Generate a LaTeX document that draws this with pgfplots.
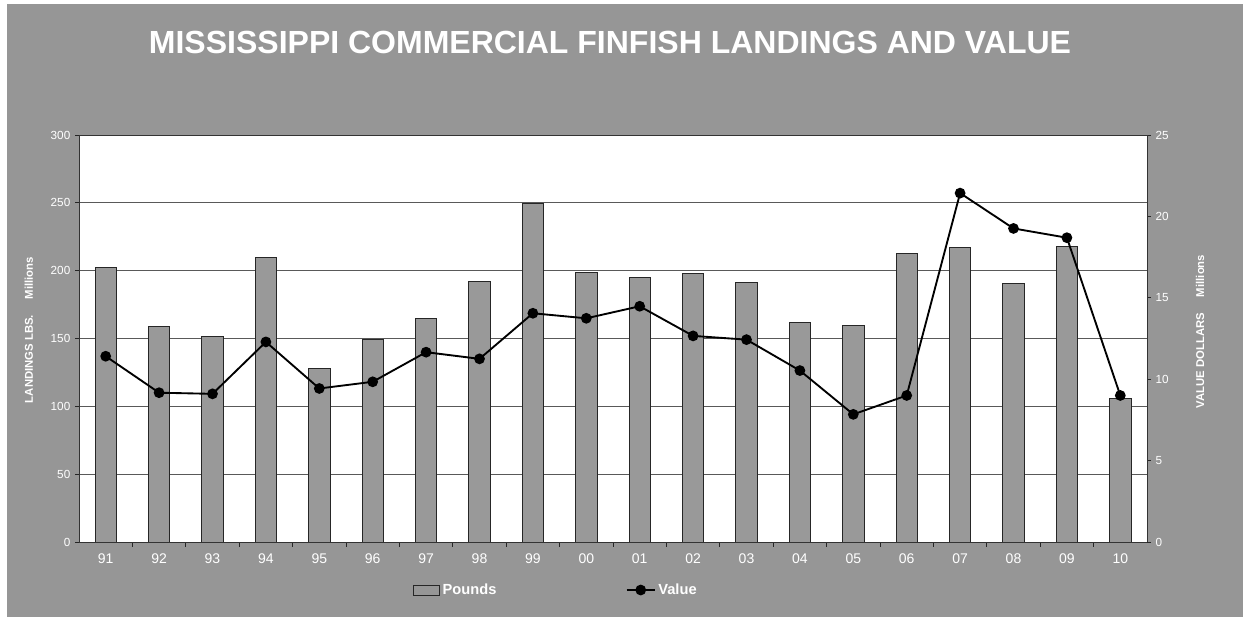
\documentclass[border=0pt]{standalone}
\usepackage{fontspec}
\setmainfont{Liberation Sans}
\usepackage{pgfplots}
\pgfplotsset{compat=1.18}

\definecolor{bggray}{RGB}{150,150,150}
\definecolor{bargray}{RGB}{153,153,153}

% shared geometry of both axes (1 px of the reference = 0.75pt)
\pgfplotsset{
  chartbase/.style={
    scale only axis, width=801pt, height=305.25pt,
    at={(59.25pt,56.25pt)}, anchor=south west,
    xmin=-0.5, xmax=19.5,
    /pgf/number format/assume math mode=true,
    tick align=outside,
    major tick length=3pt,
    tick style={black!85, line width=0.6pt},
    axis line style={-, black!80},
    yticklabel style={font=\fontsize{8.8}{10}\selectfont, text=white},
    ylabel style={font=\bfseries\fontsize{8.5}{10}\selectfont, text=white, anchor=center},
  },
  boxlegend/.style={legend image code/.code={
    \draw[fill=bggray, draw=black!85, line width=0.6pt] (0pt,-3.75pt) rectangle (19.5pt,3.75pt);}},
  linelegend/.style={legend image code/.code={
    \draw[mark repeat=2, mark phase=2, ##1] plot coordinates {(0pt,0pt) (10.5pt,0pt) (21pt,0pt)};}},
}

\begin{document}
\begin{tikzpicture}
\fill[white] (0,0) rectangle (932.25pt,462.75pt);
\fill[bggray] (5.25pt,0) rectangle (932.25pt,459.75pt);
\node[anchor=base, text=white, font=\bfseries\fontsize{24}{28}\selectfont]
  at (457.5pt,422.25pt) {MISSISSIPPI COMMERCIAL FINFISH LANDINGS AND VALUE};

% landings (left axis)
\begin{axis}[chartbase,
  ymin=0, ymax=300, ytick={0,50,...,300},
  axis background/.style={fill=white},
  ymajorgrids, major grid style={black!65, line width=0.6pt},
  xtick={0,...,19},
  xticklabels={91,92,93,94,95,96,97,98,99,00,01,02,03,04,05,06,07,08,09,10},
  xtick pos=left, ytick pos=left,
  major x tick style={draw=none},
  minor xtick={0.5,1.5,...,18.5},
  minor tick length=3.75pt,
  minor x tick style={black!85, line width=0.6pt},
  xticklabel style={font=\fontsize{10.5}{12}\selectfont, text=white, yshift=-2pt},
  ylabel={LANDINGS LBS.\hspace{1.4em}Millions},
  ylabel style={at={(axis description cs:-0.047,0.521)}},
]
\addplot[ybar, bar width=0.4, fill=bargray, draw=black!85, line width=0.6pt] coordinates {
  (0,202.6) (1,158.9) (2,151.8) (3,209.9) (4,128.0)
  (5,149.1) (6,164.6) (7,191.8) (8,249.5) (9,198.9)
  (10,195.2) (11,198.2) (12,191.1) (13,162.1) (14,159.4)
  (15,212.7) (16,216.9) (17,190.6) (18,218.0) (19,106.1)
};
\end{axis}

% value (right axis)
\begin{axis}[chartbase,
  ymin=0, ymax=25, ytick={0,5,...,25},
  axis x line=none, axis y line*=right,
  ylabel={VALUE DOLLARS\hspace{1.4em}Millions},
  ylabel style={at={(axis description cs:1.0496,0.517)}},
  legend columns=2,
  legend style={at={(axis description cs:0.3127,-0.118)}, anchor=west,
    draw=none, fill=none, inner sep=0pt,
    font=\bfseries\fontsize{11}{13}\selectfont, text=white,
    /tikz/every even column/.append style={column sep=95pt}},
]
\addlegendimage{boxlegend}
\addlegendentry{Pounds}
\addplot[black, line width=1.4pt, mark=*, mark size=3.3pt, linelegend]
  coordinates {
  (0,11.41) (1,9.17) (2,9.10) (3,12.29) (4,9.43)
  (5,9.84) (6,11.66) (7,11.25) (8,14.05) (9,13.74)
  (10,14.48) (11,12.66) (12,12.43) (13,10.53) (14,7.84)
  (15,9.00) (16,21.43) (17,19.26) (18,18.69) (19,9.00)
};
\addlegendentry{Value}
\end{axis}
\end{tikzpicture}
\end{document}
